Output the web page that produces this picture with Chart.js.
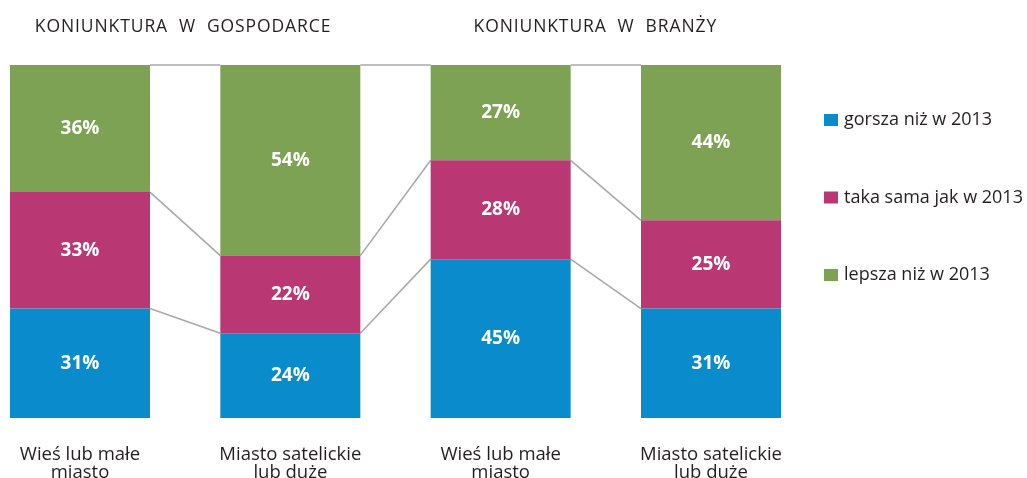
<!DOCTYPE html>
<html lang="pl">
<head>
<meta charset="utf-8">
<title>Koniunktura</title>
<script src="https://cdn.jsdelivr.net/npm/chart.js@4"></script>
<style>
  html, body { margin: 0; padding: 0; background: #fff; }
  canvas { display: block; }
</style>
</head>
<body>
<canvas id="wykres" width="1027" height="478"></canvas>
<script>
// etykiety pod słupkami (dwie linie)
const kategorie = [
  ["Wieś lub małe", "miasto"],
  ["Miasto satelickie", "lub duże"],
  ["Wieś lub małe", "miasto"],
  ["Miasto satelickie", "lub duże"],
];
// nagłówki nad parami słupków
const naglowki = ["KONIUNKTURA  W  GOSPODARCE", "KONIUNKTURA  W  BRANŻY"];

// odsetki w %
const gorsza = [31, 24, 45, 31];
const takaSama = [33, 22, 28, 25];
const lepsza = [36, 54, 27, 44];
const nazwySerii = ["gorsza niż w 2013", "taka sama jak w 2013", "lepsza niż w 2013"];
const kolory = ["#0a8bcb", "#b93874", "#7da254"];

const FONT = "'Open Sans', sans-serif";
const TEKST = "#231f20";

function punkty(wartosci) {
  return wartosci.map((v, i) => ({ x: i, y: v }));
}

// podpisy wartości w środku segmentów
const podpisy = {
  id: "podpisy",
  afterDatasetsDraw(chart) {
    const ctx = chart.ctx;
    ctx.save();
    ctx.fillStyle = "#fff";
    ctx.font = "bold 19px " + FONT;
    ctx.textAlign = "center";
    ctx.textBaseline = "middle";
    chart.data.datasets.forEach((ds, d) => {
      chart.getDatasetMeta(d).data.forEach((el, i) => {
        ctx.fillText(ds.data[i].y + "%", el.x, (el.y + el.base) / 2);
      });
    });
    ctx.restore();
  },
};

// szare linie łączące granice segmentów sąsiednich słupków
const laczniki = {
  id: "laczniki",
  beforeDatasetsDraw(chart) {
    const ctx = chart.ctx;
    ctx.save();
    ctx.strokeStyle = "#a9a9ad";
    ctx.lineWidth = 1.6;
    chart.data.datasets.forEach((ds, d) => {
      const els = chart.getDatasetMeta(d).data;
      for (let i = 0; i < els.length - 1; i++) {
        const a = els[i], b = els[i + 1];
        ctx.beginPath();
        ctx.moveTo(a.x + a.width / 2, a.y);
        ctx.lineTo(b.x - b.width / 2, b.y);
        ctx.stroke();
      }
    });
    ctx.restore();
  },
};

// nagłówki grup i legenda po prawej
const opisy = {
  id: "opisy",
  afterDraw(chart, args, opts) {
    const ctx = chart.ctx;
    const x = chart.scales.x;
    ctx.save();
    ctx.fillStyle = TEKST;
    ctx.font = "17.5px " + FONT;
    ctx.letterSpacing = "0.9px";
    ctx.textAlign = "center";
    ctx.textBaseline = "middle";
    naglowki.forEach((t, i) => {
      ctx.fillText(t, x.getPixelForValue(opts.srodki[i]), opts.gora);
    });

    ctx.letterSpacing = "0px";
    ctx.font = "18px " + FONT;
    ctx.textAlign = "left";
    chart.data.datasets.forEach((ds, d) => {
      const y = opts.legenda.y + d * opts.legenda.krok;
      ctx.fillStyle = ds.backgroundColor;
      ctx.fillRect(opts.legenda.x, y - 6, 14, 12);
      ctx.fillStyle = TEKST;
      ctx.fillText(ds.label, opts.legenda.x + 20, y);
    });
    ctx.restore();
  },
};

const config = {
  type: "bar",
  data: {
    datasets: [
      { label: nazwySerii[0], data: punkty(gorsza), backgroundColor: kolory[0] },
      { label: nazwySerii[1], data: punkty(takaSama), backgroundColor: kolory[1] },
      { label: nazwySerii[2], data: punkty(lepsza), backgroundColor: kolory[2] },
    ],
  },
  options: {
    responsive: false,
    animation: false,
    events: [],
    datasets: {
      bar: { categoryPercentage: 1, barPercentage: 0.6656, borderWidth: 0, clip: false },
    },
    layout: { padding: { left: 10, right: 246, top: 65, bottom: 0 } },
    plugins: {
      legend: { display: false },
      tooltip: { enabled: false },
      opisy: {
        srodki: [0.49, 2.45],
        gora: 27,
        legenda: { x: 824, y: 120, krok: 77.5 },
      },
    },
    scales: {
      x: {
        type: "linear",
        offset: false,
        stacked: true,
        min: -0.3328,
        max: 3.3328,
        grid: { display: false },
        border: { display: false },
        afterBuildTicks: (axis) => {
          axis.ticks = kategorie.map((_, i) => ({ value: i }));
        },
        afterFit: (axis) => {
          axis.height = 60;
          axis.paddingLeft = 0;
          axis.paddingRight = 0;
        },
        ticks: {
          padding: 20,
          color: TEKST,
          font: { family: FONT, size: 18.5, lineHeight: 0.97 },
          callback: (v) => kategorie[v],
        },
      },
      y: { stacked: true, min: 0, max: 100, display: false },
    },
  },
  plugins: [laczniki, podpisy, opisy],
};

new Chart(document.getElementById("wykres").getContext("2d"), config);
</script>
</body>
</html>
